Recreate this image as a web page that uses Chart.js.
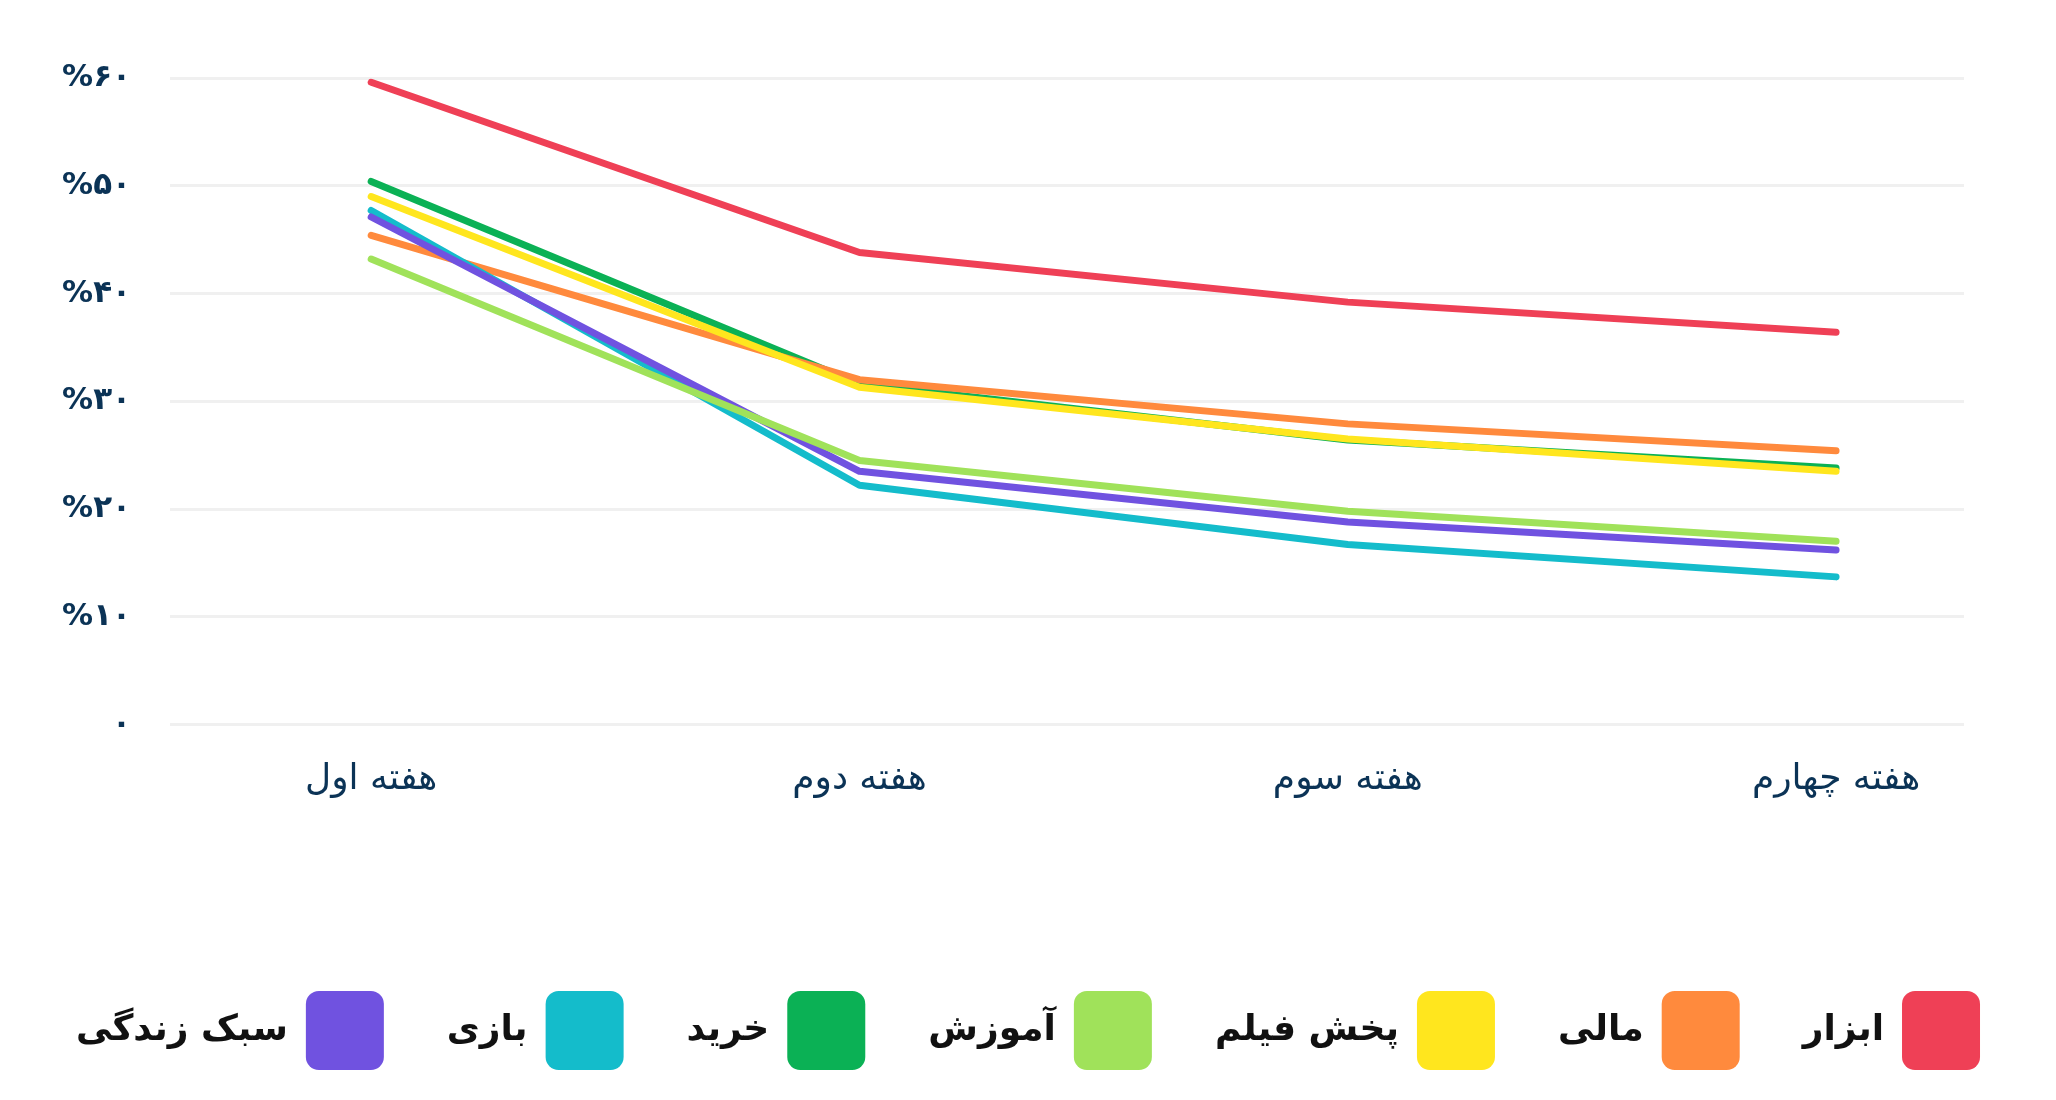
<!DOCTYPE html>
<html lang="fa">
<head>
<meta charset="utf-8">
<script src="https://cdn.jsdelivr.net/npm/chart.js@4/dist/chart.umd.min.js"></script>
<style>
html,body{margin:0;padding:0;background:#fff;}
#wrap{width:2056px;height:1100px;}
canvas{display:block;}
</style>
</head>
<body>
<div id="wrap"><canvas id="c" width="2056" height="1100"></canvas></div>
<script>
// ---- data ----
const weeks = ['هفته اول', 'هفته دوم', 'هفته سوم', 'هفته چهارم'];
const yTickLabels = ['۰', '%۱۰', '%۲۰', '%۳۰', '%۴۰', '%۵۰', '%۶۰'];
const seriesNames = ['ابزار', 'مالی', 'پخش فیلم', 'آموزش', 'خرید', 'بازی', 'سبک زندگی'];
const toolsValues     = [59.6, 43.8, 39.2, 36.4];
const financeValues   = [45.4, 32.0, 27.9, 25.4];
const movieValues     = [49.0, 31.3, 26.5, 23.5];
const educationValues = [43.2, 24.5, 19.8, 17.0];
const shoppingValues  = [50.4, 31.6, 26.4, 23.8];
const gameValues      = [47.7, 22.2, 16.7, 13.7];
const lifestyleValues = [47.1, 23.5, 18.8, 16.2];
const seriesValues = [toolsValues, financeValues, movieValues, educationValues, shoppingValues, gameValues, lifestyleValues];
const seriesColors = ['#EF4056', '#FF8A3D', '#FFE61E', '#A0E25A', '#0BB155', '#14BCCB', '#7052E0'];
const drawOrder = [0, 5, 1, 2, 6, 4, 3];

const FONT = "'DejaVu Sans', sans-serif";

const datasets = seriesNames.map((name, i) => ({
  label: name,
  data: seriesValues[i].map((v, k) => ({x: k, y: v})),
  borderColor: seriesColors[i],
  backgroundColor: seriesColors[i],
  borderWidth: 7,
  pointRadius: 0,
  pointHoverRadius: 0,
  tension: 0,
  borderCapStyle: 'round',
  borderJoinStyle: 'round',
  order: drawOrder[i],
  yAxisID: 'y'
}));

const defaultGen = Chart.defaults.plugins.legend.labels.generateLabels;

new Chart(document.getElementById('c'), {
  type: 'line',
  data: { datasets },
  options: {
    responsive: false,
    animation: false,
    layout: { padding: { top: 78, right: 0, bottom: 20, left: 0 } },
    scales: {
      x: {
        type: 'linear',
        min: -0.412,
        max: 3.262,
        afterBuildTicks: (s) => { s.ticks = weeks.map((w, k) => ({value: k})); },
        afterFit: (s) => { s.height = 203.5; },
        grid: { display: false },
        border: { display: false },
        ticks: {
          callback: (v) => weeks[v],
          color: '#0B3356',
          font: { family: FONT, size: 36 },
          padding: 26,
          maxRotation: 0,
          autoSkip: false
        }
      },
      y: {
        position: 'left',
        min: 0,
        max: 60,
        afterFit: (s) => { s.width = 170; },
        grid: { color: '#F0F0F0', lineWidth: 3, drawTicks: false },
        border: { display: false },
        ticks: {
          stepSize: 10,
          callback: (v) => yTickLabels[v / 10],
          color: '#0B3356',
          font: { family: FONT, size: 31, weight: 'bold' },
          padding: 39
        }
      },
      yRight: {
        position: 'right',
        afterFit: (s) => { s.width = 92; },
        grid: { display: false },
        border: { display: false },
        ticks: { display: false }
      }
    },
    plugins: {
      tooltip: { enabled: false },
      legend: {
        position: 'bottom',
        rtl: true,
        textDirection: 'rtl',
        labels: {
          boxWidth: 78,
          boxHeight: 79,
          useBorderRadius: true,
          borderRadius: 13,
          padding: 63,
          color: '#111111',
          font: { family: FONT, size: 36, weight: 'bold' },
          generateLabels: (chart) => defaultGen(chart)
            .map(it => Object.assign(it, { lineWidth: 0 }))
            .sort((a, b) => a.datasetIndex - b.datasetIndex)
        }
      }
    }
  }
});
</script>
</body>
</html>
